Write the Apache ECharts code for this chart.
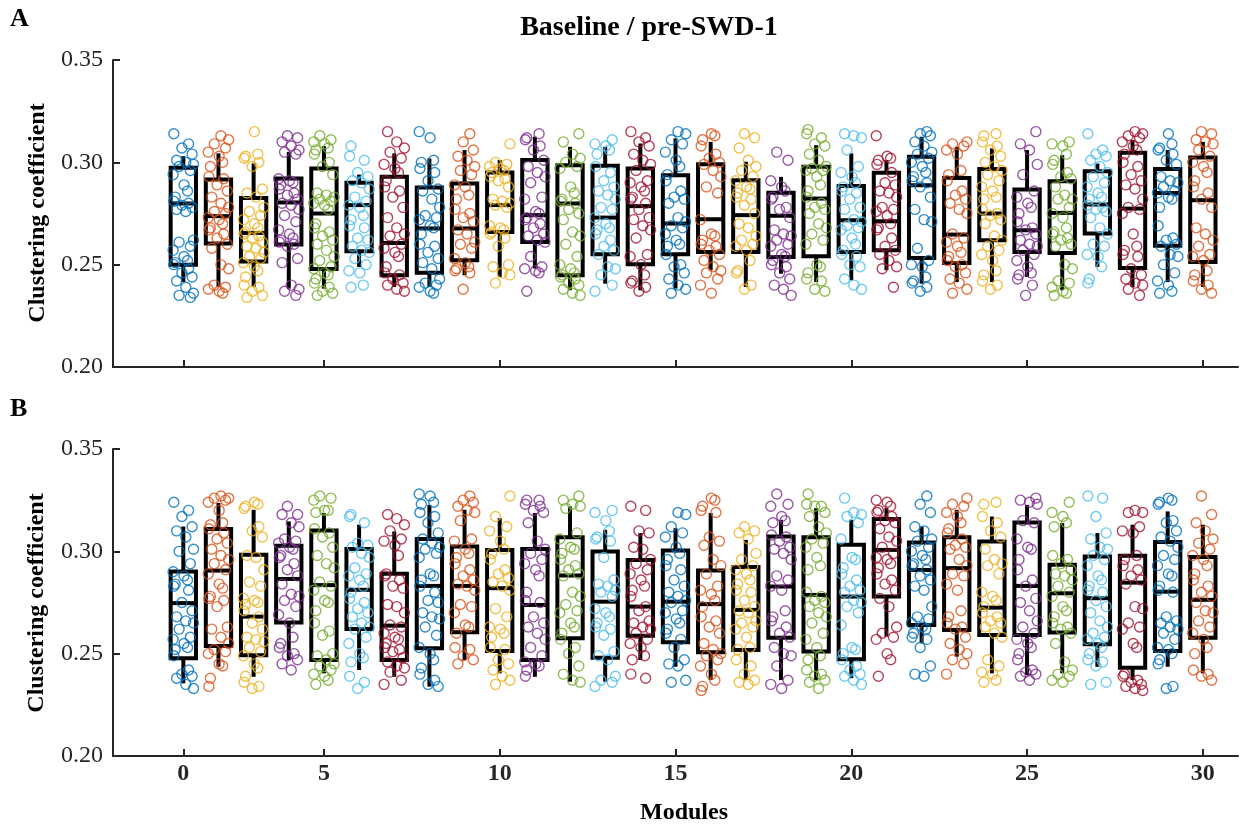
<!DOCTYPE html>
<html>
<head>
<meta charset="utf-8">
<script src="https://cdn.jsdelivr.net/npm/echarts@6/dist/echarts.min.js"></script>
<style>
  html, body { margin: 0; padding: 0; background: #fff; }
  #chart { width: 1249px; height: 829px; }
</style>
</head>
<body>
<div id="chart"></div>
<script>
// module positions on the x axis and the tick labels shown under them
const positions = [];
for (let i = 1; i <= 30; i++) positions.push(i);
const tickPositions = [1, 5, 10, 15, 20, 25, 30];
const tickLabels = ['0', '5', '10', '15', '20', '25', '30'];

// MATLAB default colour order, cycles per module
const palette = ['#0072BD', '#D95319', '#EDB120', '#7E2F8E', '#77AC30', '#4DBEEE', '#A2142F'];

// box statistics per module: [whisker low, q1, median, q3, whisker high]
const boxA = [
  [0.2415, 0.2500, 0.2799, 0.2973, 0.3030], [0.2391, 0.2603, 0.2737, 0.2916, 0.3044],
  [0.2391, 0.2516, 0.2655, 0.2826, 0.2995], [0.2383, 0.2599, 0.2804, 0.2921, 0.3051],
  [0.2383, 0.2479, 0.2750, 0.2970, 0.3079], [0.2489, 0.2566, 0.2791, 0.2900, 0.2940],
  [0.2391, 0.2448, 0.2606, 0.2929, 0.3044], [0.2391, 0.2460, 0.2677, 0.2877, 0.3019],
  [0.2448, 0.2522, 0.2677, 0.2897, 0.3060], [0.2440, 0.2660, 0.2791, 0.2950, 0.3011],
  [0.2481, 0.2611, 0.2742, 0.3011, 0.3125], [0.2375, 0.2448, 0.2799, 0.2986, 0.3076],
  [0.2407, 0.2551, 0.2730, 0.2983, 0.3076], [0.2375, 0.2502, 0.2786, 0.2970, 0.3092],
  [0.2383, 0.2551, 0.2701, 0.2937, 0.3117], [0.2473, 0.2562, 0.2722, 0.2991, 0.3100],
  [0.2391, 0.2562, 0.2742, 0.2913, 0.3003], [0.2456, 0.2538, 0.2739, 0.2851, 0.2929],
  [0.2415, 0.2541, 0.2823, 0.2978, 0.3084], [0.2424, 0.2562, 0.2717, 0.2884, 0.3044],
  [0.2473, 0.2570, 0.2712, 0.2949, 0.3011], [0.2407, 0.2533, 0.2888, 0.3027, 0.3125],
  [0.2415, 0.2508, 0.2647, 0.2924, 0.3076], [0.2415, 0.2619, 0.2750, 0.2967, 0.3068],
  [0.2440, 0.2562, 0.2668, 0.2867, 0.3060], [0.2375, 0.2557, 0.2753, 0.2908, 0.3035],
  [0.2489, 0.2652, 0.2794, 0.2957, 0.2994], [0.2391, 0.2484, 0.2774, 0.3047, 0.3109],
  [0.2415, 0.2592, 0.2850, 0.2967, 0.3060], [0.2391, 0.2513, 0.2815, 0.3024, 0.3100]
];
const boxB = [
  [0.2355, 0.2478, 0.2747, 0.2901, 0.3121], [0.2436, 0.2538, 0.2906, 0.3109, 0.3236],
  [0.2387, 0.2492, 0.2681, 0.2983, 0.3203], [0.2469, 0.2652, 0.2865, 0.3027, 0.3146],
  [0.2404, 0.2469, 0.2835, 0.3102, 0.3187], [0.2420, 0.2621, 0.2812, 0.3011, 0.3130],
  [0.2387, 0.2469, 0.2637, 0.2890, 0.3097], [0.2339, 0.2526, 0.2831, 0.3060, 0.3227],
  [0.2469, 0.2605, 0.2831, 0.3024, 0.3203], [0.2404, 0.2513, 0.2820, 0.3007, 0.3162],
  [0.2387, 0.2469, 0.2738, 0.3011, 0.3187], [0.2363, 0.2575, 0.2882, 0.3069, 0.3219],
  [0.2363, 0.2480, 0.2754, 0.2999, 0.3105], [0.2469, 0.2588, 0.2730, 0.2958, 0.3089],
  [0.2436, 0.2556, 0.2754, 0.3004, 0.3113], [0.2371, 0.2507, 0.2742, 0.2906, 0.3187],
  [0.2371, 0.2518, 0.2714, 0.2923, 0.3056], [0.2371, 0.2578, 0.2828, 0.3072, 0.3154],
  [0.2371, 0.2510, 0.2787, 0.3069, 0.3211], [0.2380, 0.2473, 0.2779, 0.3032, 0.3154],
  [0.2583, 0.2779, 0.3007, 0.3158, 0.3211], [0.2551, 0.2640, 0.2909, 0.3043, 0.3121],
  [0.2485, 0.2616, 0.2918, 0.3069, 0.3203], [0.2404, 0.2591, 0.2725, 0.3048, 0.3170],
  [0.2396, 0.2591, 0.2831, 0.3141, 0.3227], [0.2404, 0.2603, 0.2795, 0.2934, 0.3138],
  [0.2436, 0.2546, 0.2771, 0.2975, 0.3089], [0.2371, 0.2431, 0.2847, 0.2978, 0.3130],
  [0.2436, 0.2513, 0.2803, 0.3045, 0.3195], [0.2404, 0.2578, 0.2763, 0.2972, 0.3130]
];

// individual values per module, in thousandths
const ptsA = [
  '314 309 307 304 301 300 299 298 296 294 289 286 283 281 280 279 278 277 276 262 261 259 257 254 252 251 250 248 246 244 242 239 236 235 234',
  '313 311 309 307 305 303 300 298 293 292 289 286 283 280 278 276 275 273 272 270 268 267 265 263 260 258 250 248 240 239 238 237 236',
  '315 304 303 302 300 298 287 285 283 278 276 274 272 270 268 266 265 264 263 261 259 258 256 254 253 251 249 247 244 240 239 237 235 234',
  '313 312 310 308 306 305 304 292 291 290 289 287 285 284 282 280 279 277 274 271 267 265 263 262 261 260 259 253 251 240 238 237 235',
  '313 311 310 309 307 306 304 300 298 294 285 284 283 282 281 280 279 277 270 268 266 264 262 260 257 254 252 249 248 246 245 243 241 239 237 236 235',
  '308 303 301 295 293 291 290 287 283 281 279 278 274 272 269 268 263 262 259 257 256 253 250 247 246 240 239',
  '315 310 307 305 302 299 297 295 291 288 286 283 278 273 268 265 264 260 258 256 254 249 246 245 243 241 240 238 237',
  '315 312 301 300 297 295 291 287 286 282 278 274 273 272 269 268 265 260 259 256 253 251 248 243 241 240 239 237 236',
  '314 310 306 303 301 298 296 294 289 288 284 282 277 275 273 271 267 265 261 260 258 253 251 249 248 247 246 238',
  '309 300 299 298 297 296 295 293 292 291 288 282 281 280 279 278 269 268 267 266 265 263 259 250 249 246 245 241',
  '314 312 311 308 306 301 298 295 293 290 283 282 276 275 273 272 270 268 265 264 262 261 254 249 248 247 246 237',
  '314 310 304 302 300 298 297 288 285 282 281 280 277 275 272 266 264 260 254 250 248 246 245 244 243 241 240 238 236 235',
  '311 309 308 306 304 298 295 291 288 286 284 282 278 277 273 270 268 267 265 262 259 257 255 249 248 245 240 237',
  '315 312 310 308 304 301 299 296 291 290 288 286 283 282 280 277 273 272 269 267 263 255 254 250 245 242 241 239 237',
  '315 314 311 309 305 301 298 294 291 286 283 282 280 273 271 269 268 265 262 260 259 255 250 249 246 243 240 238 236',
  '314 313 311 308 304 302 300 299 296 293 288 285 272 265 264 262 260 259 257 255 252 249 247 246 243 240 236',
  '314 312 307 301 298 296 293 291 288 287 285 283 282 279 275 270 268 264 262 260 259 257 252 247 246 240 238',
  '305 301 291 288 286 283 282 278 277 273 267 265 264 262 260 259 255 254 252 250 249 246 243 240 238 235',
  '316 314 312 309 308 304 301 298 297 296 296 293 289 286 283 280 278 277 275 270 268 265 262 260 250 249 246 243 242 238 237',
  '314 313 312 306 298 295 293 290 288 286 285 282 278 277 272 271 269 268 267 263 260 257 255 254 250 249 243 240 238',
  '313 303 302 301 299 295 290 289 286 285 283 278 277 276 274 270 268 267 263 259 257 255 252 249 248 239',
  '315 314 313 310 308 305 304 302 300 298 295 293 291 290 288 283 277 272 271 258 252 250 249 244 242 241 239 237',
  '310 309 308 306 304 296 294 291 286 284 282 280 277 275 265 263 261 259 256 254 252 250 249 246 243 241 238 236',
  '314 313 310 308 306 303 300 298 296 294 291 288 286 283 282 277 275 274 272 270 264 262 259 257 255 252 247 245 242 240 238',
  '315 309 306 299 294 286 283 280 278 275 271 268 267 265 262 260 259 257 255 252 249 246 245 243 240 235',
  '310 309 308 304 301 299 295 293 292 288 284 282 282 278 275 273 268 266 265 263 262 260 259 250 248 242 241 239 237 236 235',
  '314 306 304 303 301 298 295 293 290 288 285 283 282 279 278 277 276 273 268 265 260 259 255 254 249 243 241',
  '315 314 313 312 310 308 306 304 300 298 294 291 289 287 282 278 277 275 265 259 257 255 254 248 245 243 241 240 238 235',
  '314 309 307 306 304 301 299 293 291 290 288 286 285 283 282 278 269 263 262 260 259 255 254 250 246 242 240 237 236',
  '315 314 311 310 309 306 303 300 298 295 291 288 285 282 278 268 265 262 259 255 254 252 247 245 242 240 238 236'
];
const ptsB = [
  '324 320 317 312 310 307 301 300 294 290 288 286 284 283 281 275 271 268 266 265 262 258 257 255 253 252 249 242 240 239 238 235 233',
  '327 326 326 325 324 320 314 313 311 309 306 304 301 298 296 294 291 289 284 282 278 277 276 273 263 262 258 255 252 251 250 245 244 238 234',
  '324 323 322 321 312 310 307 298 297 291 285 283 277 276 275 274 271 268 265 262 258 257 256 253 251 249 245 243 239 236 234 233',
  '322 318 318 314 312 306 305 304 302 301 298 297 294 291 288 284 279 278 276 273 269 265 258 255 253 250 249 247 245 242',
  '327 326 325 320 320 319 311 309 307 302 298 294 292 285 283 281 276 275 271 265 261 259 250 249 247 245 244 242 240 239 237 235',
  '318 317 314 304 303 302 299 297 292 289 288 286 283 280 277 275 272 270 268 265 263 262 258 255 250 248 246 239 236 233',
  '318 316 313 310 306 305 303 298 289 288 286 283 282 274 273 270 264 263 260 258 257 255 253 252 251 248 246 244 243 241 237 235',
  '328 327 324 323 319 317 314 309 306 304 302 301 299 297 289 288 286 283 280 276 275 270 268 267 263 259 253 250 247 243 240 237 235 234',
  '327 325 324 322 320 319 315 306 305 301 299 297 294 291 288 286 284 283 281 274 273 270 264 263 260 253 252 249 247 245',
  '327 317 312 310 305 301 299 296 291 289 287 285 283 281 272 268 263 262 260 258 253 252 247 245 242 239 237 235',
  '325 325 323 322 320 319 314 305 301 299 296 294 291 288 280 276 275 268 265 263 260 257 253 249 246 245 244 242 239',
  '327 325 323 322 321 309 306 302 301 299 296 293 291 289 288 280 278 274 271 270 265 263 260 257 253 250 244 240 237 236',
  '320 319 315 310 307 306 305 297 286 284 283 281 280 278 272 270 268 265 263 262 259 251 249 247 239 237 236 234',
  '322 320 310 309 302 301 296 294 291 289 286 283 281 278 273 271 266 265 263 262 260 257 255 253 249 247 240 238',
  '319 318 312 309 307 302 299 296 293 291 286 283 280 278 276 275 271 270 267 265 262 260 257 253 247 245 244 237 236',
  '326 325 322 320 319 307 305 303 296 293 289 283 281 279 276 273 268 266 263 260 255 252 250 249 247 244 240 237 234 232',
  '312 310 309 306 299 296 293 291 289 286 284 281 280 276 273 271 270 266 265 263 262 258 253 252 247 244 240 237 236 235',
  '328 323 322 317 315 314 308 307 305 302 301 299 296 288 286 283 281 271 268 266 263 260 258 253 250 249 244 237 235 233',
  '328 323 322 322 319 317 312 309 306 304 302 297 293 291 280 278 276 275 273 270 268 265 260 257 253 249 247 242 240 239 237 236 233',
  '326 319 318 317 314 306 297 296 292 289 286 283 281 280 276 275 273 270 264 253 252 250 247 244 242 240 239 237 235',
  '325 324 322 320 319 317 315 314 311 307 305 302 299 297 296 294 292 289 286 284 281 277 273 263 260 258 257 250 247 239',
  '327 323 319 312 310 306 305 302 300 298 296 294 293 291 288 286 283 281 273 268 267 265 263 262 260 258 257 253 244 240 239',
  '326 323 322 319 317 314 311 309 306 303 302 301 296 293 289 288 284 281 271 268 265 263 262 258 255 252 250 247 245 240',
  '324 323 317 314 310 307 301 296 294 293 289 280 278 276 273 270 268 266 265 263 260 258 247 244 241 240 237 236',
  '326 325 324 323 315 314 306 302 301 296 291 286 283 277 275 271 266 263 260 257 255 253 250 247 242 241 240 239 237',
  '324 319 317 314 312 298 296 294 291 289 288 286 283 280 278 273 271 268 265 263 262 260 255 246 242 240 239 237 236',
  '327 326 317 309 306 302 301 298 296 293 288 286 283 281 280 276 273 270 266 263 260 258 257 255 253 250 247 246 244 236 235',
  '320 319 319 312 310 309 298 296 293 291 288 286 284 273 272 265 263 262 255 253 240 239 237 236 235 234 233 232',
  '326 325 324 323 315 314 310 307 305 302 298 296 293 289 288 283 281 280 268 266 265 263 262 260 257 253 252 250 247 245 234 233',
  '327 318 314 310 306 304 301 298 296 293 289 286 283 280 278 275 271 270 266 263 260 257 253 250 242 240 239 237'
];

// horizontal spread pattern of the dots around each box centre (axis units)
const jitter = [-0.27, 0.15, -0.04, 0.25, -0.19, 0.07, 0.29, -0.12, 0.20, -0.29, 0.02, 0.12, -0.23];

const FONT = "'Liberation Serif', 'Times New Roman', serif";
const AXIS_COLOR = '#262626';

function dotData(pts) {
  const out = [];
  pts.forEach((str, i) => {
    const col = palette[i % palette.length];
    str.trim().split(/\s+/).forEach((s, j) => {
      const v = parseFloat(s) / 1000;
      const dx = jitter[(j + i * 5) % jitter.length];
      out.push({ value: [positions[i] + dx, v], itemStyle: { borderColor: col } });
    });
  });
  return out;
}

function renderBox(params, api) {
  const x = api.value(0);
  const low = api.coord([x, api.value(1)]);
  const q1 = api.coord([x, api.value(2)]);
  const med = api.coord([x, api.value(3)]);
  const q3 = api.coord([x, api.value(4)]);
  const high = api.coord([x, api.value(5)]);
  const half = api.size([1, 0])[0] * 0.36;
  const st = { stroke: '#000', lineWidth: 4, fill: 'none' };
  return {
    type: 'group',
    children: [
      { type: 'line', shape: { x1: low[0], y1: low[1], x2: q1[0], y2: q1[1] }, style: st },
      { type: 'line', shape: { x1: q3[0], y1: q3[1], x2: high[0], y2: high[1] }, style: st },
      { type: 'rect', shape: { x: q3[0] - half, y: q3[1], width: half * 2, height: q1[1] - q3[1] }, style: st },
      { type: 'line', shape: { x1: med[0] - half, y1: med[1], x2: med[0] + half, y2: med[1] }, style: st }
    ]
  };
}

function xAxisFor(gridIndex, showLabels) {
  return {
    type: 'value', gridIndex: gridIndex, min: -1, max: 31, interval: 1,
    axisLine: { show: true, onZero: false, lineStyle: { color: AXIS_COLOR, width: 2 } },
    axisTick: { show: true, inside: true, length: 7, customValues: tickPositions,
                lineStyle: { color: AXIS_COLOR, width: 2 } },
    axisLabel: {
      show: showLabels, customValues: tickPositions, margin: 6,
      fontFamily: FONT, fontSize: 24, fontWeight: 'bold', color: AXIS_COLOR,
      formatter: v => tickLabels[tickPositions.indexOf(v)] || ''
    },
    splitLine: { show: false }
  };
}

function yAxisFor(gridIndex) {
  return {
    type: 'value', gridIndex: gridIndex, min: 0.2, max: 0.35, interval: 0.05,
    axisLine: { show: true, onZero: false, lineStyle: { color: AXIS_COLOR, width: 2 } },
    axisTick: { show: true, inside: true, length: 7, lineStyle: { color: AXIS_COLOR, width: 2 } },
    axisLabel: { margin: 10, fontFamily: FONT, fontSize: 24, color: AXIS_COLOR,
                 formatter: v => v.toFixed(2) },
    splitLine: { show: false }
  };
}

const boxSeries = (data, idx) => ({
  type: 'custom', xAxisIndex: idx, yAxisIndex: idx, z: 2,
  renderItem: renderBox,
  encode: { x: 0, y: [1, 2, 3, 4, 5] },
  data: data.map((s, i) => [positions[i]].concat(s))
});

const dotSeries = (pts, idx) => ({
  type: 'scatter', xAxisIndex: idx, yAxisIndex: idx, z: 3,
  symbol: 'circle', symbolSize: 10,
  itemStyle: { color: 'rgba(255,255,255,0)', borderWidth: 1.4 },
  emphasis: { disabled: true },
  data: dotData(pts)
});

const textStyle = (txt, size) => ({
  text: txt, fontFamily: FONT, fontSize: size, fontWeight: 'bold', fill: '#000'
});

const option = {
  animation: false,
  backgroundColor: '#fff',
  grid: [
    { left: 113, top: 60, width: 1125, height: 307 },
    { left: 113, top: 449, width: 1125, height: 307 }
  ],
  xAxis: [xAxisFor(0, false), xAxisFor(1, true)],
  yAxis: [yAxisFor(0), yAxisFor(1)],
  series: [boxSeries(boxA, 0), dotSeries(ptsA, 0), boxSeries(boxB, 1), dotSeries(ptsB, 1)],
  graphic: [
    { type: 'text', x: 649, y: 28,
      style: Object.assign(textStyle('Baseline / pre-SWD-1', 28), { align: 'center', verticalAlign: 'middle' }) },
    { type: 'text', x: 10, y: 6, style: textStyle('A', 26) },
    { type: 'text', x: 10, y: 396, style: textStyle('B', 26) },
    { type: 'text', x: 38, y: 213, rotation: Math.PI / 2,
      style: Object.assign(textStyle('Clustering coefficient', 24), { align: 'center', verticalAlign: 'middle' }) },
    { type: 'text', x: 37, y: 603, rotation: Math.PI / 2,
      style: Object.assign(textStyle('Clustering coefficient', 24), { align: 'center', verticalAlign: 'middle' }) },
    { type: 'text', x: 684, y: 813,
      style: Object.assign(textStyle('Modules', 24), { align: 'center', verticalAlign: 'middle' }) }
  ]
};

const chart = echarts.init(document.getElementById('chart'));
chart.setOption(option);
</script>
</body>
</html>
